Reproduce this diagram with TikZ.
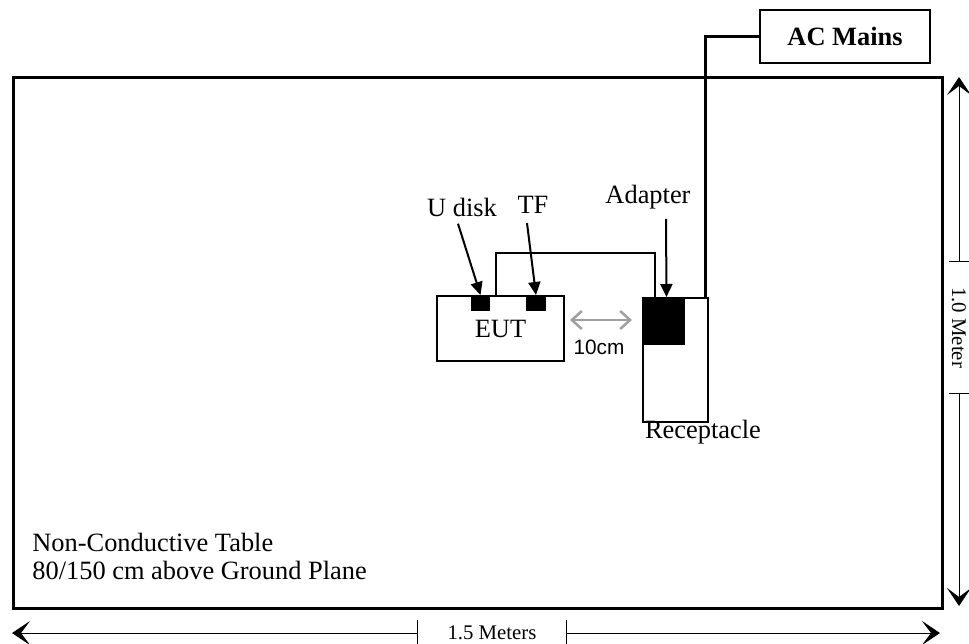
\documentclass[tikz,border=0pt]{standalone}
\usepackage{fontspec}
\setmainfont{Liberation Serif}
\newfontfamily\arialfont{Liberation Sans}
\usetikzlibrary{arrows.meta}
\definecolor{arrowgray}{RGB}{160,160,160}
\begin{document}
\begin{tikzpicture}[x=0.5pt, y=-0.5pt,
    box/.style={draw, line width=1pt, inner sep=0pt, anchor=north west},
    lbl/.style={font=\fontsize{13.2}{14}\selectfont, inner sep=1pt},
    pointer/.style={line width=1pt, -{Triangle[width=6pt,length=6.5pt]}},
    dimtext/.style={font=\fontsize{10.4}{12}\selectfont, inner sep=0pt},
    dimline/.style={line width=0.5pt},
    dimarrow/.style={line width=0.5pt, -{Stealth[length=9pt,width=12pt,inset=4.5pt]}}]
    \useasboundingbox (0,0) rectangle (969,643);

    % === Table ===
    \node[box, line width=1.5pt, minimum width=464.5pt, minimum height=265.5pt] (table) at (12,76) {};
    \node[lbl, anchor=west, align=left, inner sep=0pt] (tabletxt) at (32,556) {Non-Conductive Table\\80/150 cm above Ground Plane};

    % === EUT with U disk and TF ===
    \node[box, lbl, inner sep=0pt, minimum width=63.5pt, minimum height=32.5pt] (eut) at (436,295) {EUT};
    \node[box, fill, minimum width=8.5pt, minimum height=7pt] (usb) at (471,295) {};
    \node[box, fill, minimum width=9pt, minimum height=7pt] (tf) at (526,295) {};

    % === Receptacle and adapter ===
    \node[box, minimum width=32.5pt, minimum height=62pt] (recept) at (642,297) {};
    \node[box, fill, minimum width=19.5pt, minimum height=23pt] (adapter) at (644,297) {};
    \node[lbl] (receptlbl) at (703,432) {Receptacle};

    % === AC Mains ===
    \node[box, inner sep=0pt, minimum width=85pt, minimum height=26.5pt, font=\fontsize{13.2}{14}\selectfont\bfseries] (mains) at (759,9) {AC Mains};

    % cables
    \coordinate (bend) at (655,253);
    \draw[line width=0.75pt] ([xshift=30pt]eut.north west) |- (bend) -- (bend |- adapter.north);
    \draw[line width=1.5pt] (mains.west) -| ([xshift=-2pt]recept.north east);

    % labels with pointers
    \node[lbl] (udisklbl) at (462,207) {U disk};
    \node[lbl] (tflbl) at (533,205) {TF};
    \node[lbl] (adapterlbl) at (648,197.5) {Adapter};
    \draw[pointer] ([xshift=-2pt,yshift=-2.5pt]udisklbl.south) -- (usb.north);
    \draw[pointer] ([xshift=-3pt,yshift=-3.5pt]tflbl.south) -- (tf.north);
    \draw[pointer] ([xshift=9pt,yshift=-3.5pt]adapterlbl.south) -- ([xshift=1pt]adapter.north);

    % 10cm spacing
    \coordinate (gapl) at (570,320);
    \coordinate (gapr) at (632,320);
    \draw[arrowgray, line width=1.25pt, {Straight Barb[length=5pt,width=9pt]}-{Straight Barb[length=5pt,width=9pt]}] (gapl) -- (gapr);
    \node[font=\arialfont\fontsize{10.4}{12}\selectfont, inner sep=0pt] (tencm) at (599,347) {10cm};

    % === Dimensions ===
    \node[dimtext, rotate=-90, minimum width=65.5pt, minimum height=10pt] (vlbl) at (959,327.5) {1.0 Meter};
    \coordinate (vtop) at (959,77);
    \coordinate (vbot) at (959,606);
    \draw[dimline] (vlbl.north west) -- (vlbl.south west) (vlbl.north east) -- (vlbl.south east);
    \draw[dimarrow] (vlbl.west) -- (vtop);
    \draw[dimarrow] (vlbl.east) -- (vbot);

    \node[dimtext, minimum width=74pt, minimum height=13pt] (hlbl) at (492,633) {1.5 Meters};
    \coordinate (hleft) at (12,633);
    \coordinate (hright) at (940,633);
    \draw[dimline] (hlbl.north west) -- (hlbl.south west) (hlbl.north east) -- (hlbl.south east);
    \draw[dimarrow] (hlbl.west) -- (hleft);
    \draw[dimarrow] (hlbl.east) -- (hright);
\end{tikzpicture}
\end{document}
